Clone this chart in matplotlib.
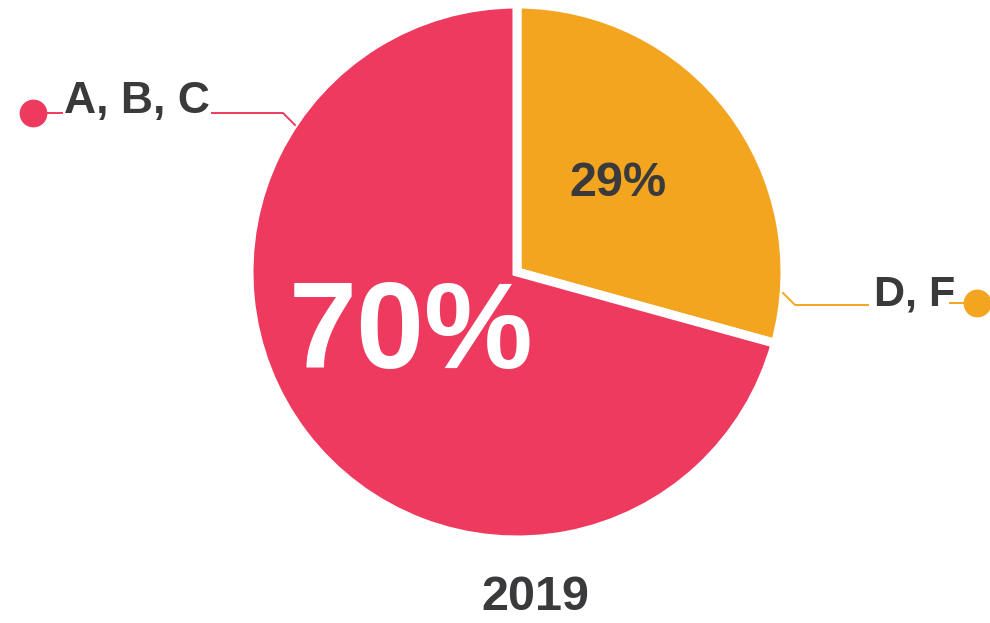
import matplotlib.pyplot as plt

# --- data -------------------------------------------------------------
groups = ["D, F", "A, B, C"]
shares = [29, 70]
share_labels = ["29%", "70%"]
colors = ["#F3A51F", "#EE3A5F"]
year = "2019"

TEXT = "#3A3A3C"
W, H = 990, 623

plt.rcParams["font.family"] = ["Liberation Sans", "DejaVu Sans"]

fig = plt.figure(figsize=(W / 100, H / 100), dpi=100)
ax = fig.add_axes([0, 0, 1, 1])

cx, cy, r = 517, H - 272, 268
ax.pie(
    shares,
    colors=colors,
    startangle=90,
    counterclock=False,
    center=(cx, cy),
    radius=r,
    wedgeprops={"edgecolor": "white", "linewidth": 6.5},
    frame=True,
)
ax.set_xlim(0, W)
ax.set_ylim(0, H)
ax.set_aspect("equal")
ax.axis("off")

# percentages inside the slices
ax.text(618, H - 183, share_labels[0], color=TEXT, fontsize=35,
        fontweight="bold", ha="center", va="center")
ax.text(411, H - 336, share_labels[1], color="white", fontsize=88,
        fontweight="bold", ha="center", va="center")

# left label "A, B, C"
red = colors[1]
ax.text(64, H - 113, groups[1], color=TEXT, fontsize=32, fontweight="bold",
        ha="left", va="baseline")
ax.plot([33, 62], [H - 113, H - 113], color=red, lw=1.4)
ax.plot([33], [H - 113], "o", color=red, ms=19)
ax.plot([212, 283, 295], [H - 113, H - 113, H - 125], color=red, lw=1.4)

# right label "D, F"
orange = colors[0]
ax.text(874, H - 305, groups[0], color=TEXT, fontsize=31, fontweight="bold",
        ha="left", va="baseline")
ax.plot([950, 977], [H - 303, H - 303], color=orange, lw=1.4)
ax.plot([977], [H - 303], "o", color=orange, ms=19)
ax.plot([868, 795, 783], [H - 305, H - 305, H - 293], color=orange, lw=1.4)

# year under the pie
ax.text(535, H - 597, year, color=TEXT, fontsize=35, fontweight="bold",
        ha="center", va="center")

fig.savefig("out.png", dpi=100, facecolor="white")
